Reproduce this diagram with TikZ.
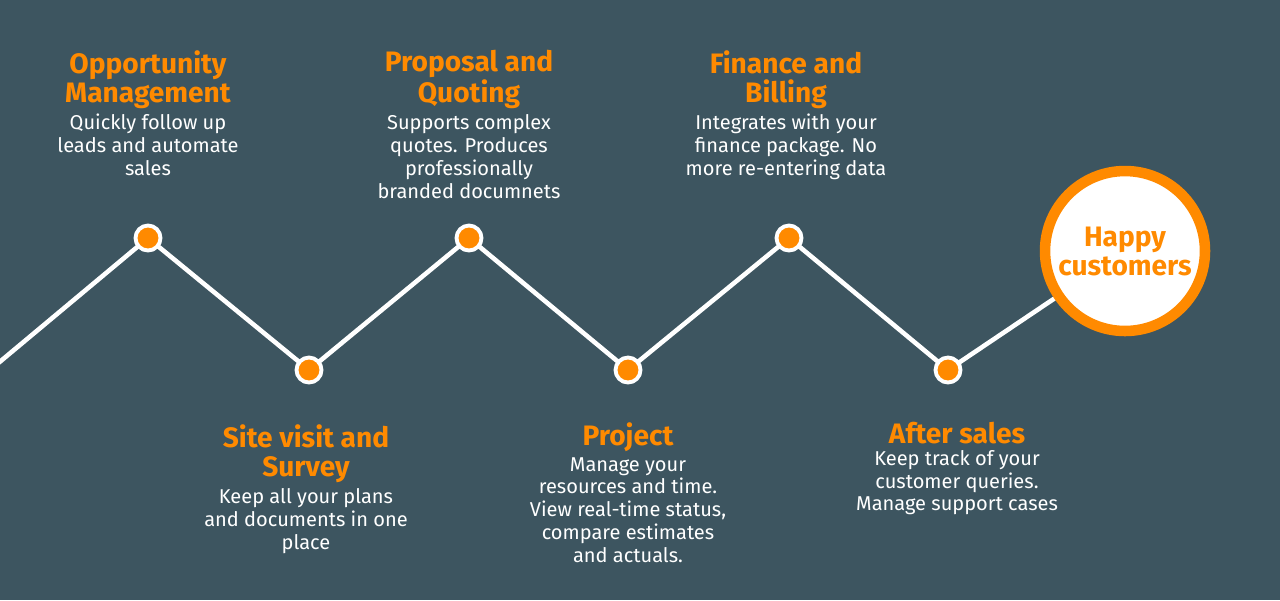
\documentclass[tikz,border=0pt]{standalone}
\usepackage{fontspec}
\setmainfont{Fira Sans}
\usetikzlibrary{positioning}
\definecolor{bgslate}{HTML}{3D5560}
\definecolor{orng}{HTML}{FF8A00}
\begin{document}
\begin{tikzpicture}[x=0.02cm, y=-0.02cm,
    dot/.style={circle, draw=white, line width=2.2pt, fill=orng, minimum size=0.5cm, inner sep=0pt},
    goal/.style={circle, draw=orng, line width=6pt, fill=white, minimum size=3.2cm, inner sep=0pt},
    title/.style={text=orng, font=\fontsize{16}{16.5}\selectfont\bfseries, align=center, inner sep=0pt},
    desc/.style={text=white, font=\fontsize{11.4}{13}\selectfont, align=center, inner sep=0pt},
    link/.style={white, line width=2.6pt}]
    \fill[bgslate] (0,0) rectangle (1280,600);
    \useasboundingbox (0,0) rectangle (1280,600);

    \coordinate (start) at (-10,370);
    \coordinate (opp) at (148,238);
    \coordinate (site) at (309,370);
    \coordinate (prop) at (469,238);
    \coordinate (proj) at (628,370);
    \coordinate (fin) at (789,238);
    \coordinate (after) at (948,370);
    \coordinate (happy) at (1125,251);

    \draw [link] (start) -- (opp) -- (site) -- (prop) -- (proj) -- (fin) -- (after) -- (happy);
    \foreach \p in {opp,site,prop,proj,fin,after}
        \node [dot] (\p dot) at (\p) {};
    \node [goal, title] (goalcircle) at (happy) {Happy\\customers};

    \node [title, anchor=north] (t1) at (148,50) {Opportunity\\Management};
    \node [desc, below=3pt of t1] {Quickly follow up\\leads and automate\\sales};
    \node [title, anchor=north] (t2) at (469,50) {Proposal and\\Quoting};
    \node [desc, below=3pt of t2] {Supports complex\\quotes. Produces\\professionally\\branded documnets};
    \node [title, anchor=north] (t3) at (786,50) {Finance and\\Billing};
    \node [desc, below=3pt of t3] {Integrates with your\\finance package. No\\more re-entering data};
    \node [title, anchor=north] (t4) at (306,424) {Site visit and\\Survey};
    \node [desc, below=3pt of t4] {Keep all your plans\\and documents in one\\place};
    \node [title, anchor=north] (t5) at (628,422) {Project};
    \node [desc, below=3pt of t5] {Manage your\\resources and time.\\View real-time status,\\compare estimates\\and actuals.};
    \node [title, anchor=north] (t6) at (957,422) {After sales};
    \node [desc, below=3pt of t6] {Keep track of your\\customer queries.\\Manage support cases};
\end{tikzpicture}
\end{document}
